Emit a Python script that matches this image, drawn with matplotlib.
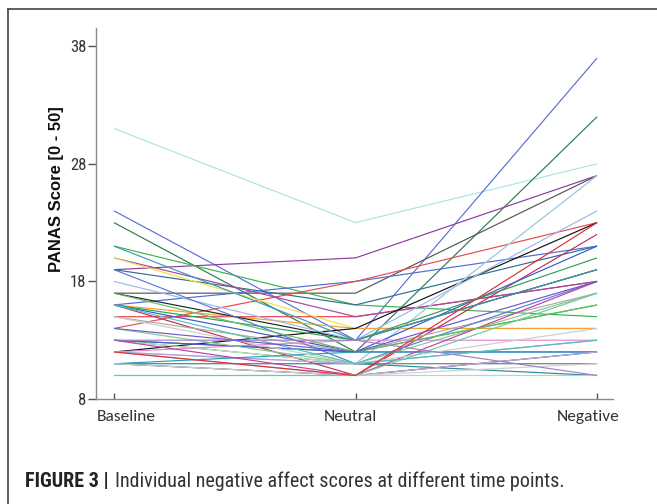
import matplotlib
matplotlib.use("Agg")
import matplotlib.pyplot as plt
from matplotlib.lines import Line2D
from matplotlib import font_manager as fm

# ---------------- data ----------------
categories = ["Baseline", "Neutral", "Negative"]
y_ticks = [8, 18, 28, 38]

baseline = [31, 24, 23, 19, 17, 21, 19, 16, 14, 15, 20, 20, 16, 17, 12, 16, 11, 10, 11, 13,
            18, 13, 12, 16, 15, 16, 21, 19, 13, 12, 13, 14, 12, 11, 13, 15, 17, 12, 11, 16,
            10, 13, 14, 12]
neutral = [23, 13, 12, 20, 17, 16, 16, 18, 18, 15, 15, 14, 14, 13, 14, 10, 11, 10, 10, 11,
           13, 11, 11, 12, 12, 13, 13, 11, 12, 13, 12, 11, 11, 12, 10, 11, 12, 10, 10, 11,
           10, 13, 12, 10]
negative = [28, 37, 32, 27, 27, 15, 21, 21, 23, 18, 18, 14, 14, 19, 23, 22, 10, 10, 12, 11,
            24, 27, 27, 21, 17, 20, 19, 18, 16, 13, 12, 17, 13, 12, 18, 14, 16, 12, 11, 13,
            17, 10, 18, 23]
colors = ["#a9e4e4", "#5a6fd6", "#2f7a4f", "#8e3a9e", "#555555", "#3cb44b", "#2f6f8f",
          "#4f6bd8", "#e84a4a", "#e8424e", "#a04aa0", "#eee050", "#f5a030", "#222222",
          "#111111", "#c0305a", "#2a8a9a", "#9fe0c8", "#1f4f6f", "#777777", "#9db8e8",
          "#b8e8b8", "#a8c8ee", "#3a5ac8", "#aaaaaa", "#2ca05a", "#3a9ab0", "#5a7ad8",
          "#3cb44b", "#e08ad0", "#4455dd", "#88c888", "#b0a0d8", "#28a0b8", "#c040a0",
          "#cccccc", "#66bb66", "#c8a8d8", "#d0d0d0", "#50c0c0", "#70c8a0", "#a080c0",
          "#6a5acd", "#e03030"]

ylabel = "PANAS Score [0 - 50]"
caption_bold = "FIGURE 3 |"
caption_text = "Individual negative affect scores at different time points."

# ---------------- fonts ----------------
def pick(names):
    avail = {f.name for f in fm.fontManager.ttflist}
    for n in names:
        if n in avail:
            return n
    return "DejaVu Sans"

narrow = pick(["Liberation Sans Narrow", "Roboto Condensed", "Liberation Sans"])
sans = pick(["Liberation Sans", "DejaVu Sans"])
calib = pick(["Carlito", "Lato", "Open Sans"])

W, H = 657, 504
fig = plt.figure(figsize=(W / 100, H / 100), dpi=100)

def fx(px):
    return px / W

def fy(py):
    return 1 - py / H

ax = fig.add_axes([fx(96), fy(399), fx(613) - fx(96), fy(28) - fy(399)])
x = list(range(len(categories)))
for b, n, g, c in zip(baseline, neutral, negative, colors):
    ax.plot(x, [b, n, g], color=c, lw=0.85, solid_capstyle="butt")

ax.set_xlim(-0.0745, 2.066)
ax.set_ylim(8, 39.55)
for s in ["top", "right"]:
    ax.spines[s].set_visible(False)
for s in ["left", "bottom"]:
    ax.spines[s].set_color("#8a8a8a")
    ax.spines[s].set_linewidth(1.0)
ax.set_yticks(y_ticks)
ax.set_yticklabels([str(v) for v in y_ticks], family=narrow, fontsize=12, color="#333333")
ax.tick_params(axis="y", direction="out", length=6, width=1, color="#555555", pad=1)
ax.set_xticks(x)
ax.set_xticklabels([])
ax.tick_params(axis="x", direction="in", length=4, width=1, color="#555555")

# category labels
label_px = [126, 350, 588]
for lab, px in zip(categories, label_px):
    fig.text(fx(px), fy(417), lab, ha="center", va="center", family=calib,
             fontsize=12.5, color="#333333", fontweight="normal")

fig.text(fx(56.5), fy(189), ylabel, rotation=90, ha="center", va="center",
         family=sans, fontweight="bold", fontsize=12, color="#111111")

# frame
fig.add_artist(Line2D([fx(8), fx(8)], [fy(9), -0.1], color="#444444", lw=1.2,
                      transform=fig.transFigure))
fig.add_artist(Line2D([fx(8), 1.1], [fy(9), fy(9)], color="#444444", lw=1.2,
                      transform=fig.transFigure))

# caption
t1 = fig.text(fx(25), fy(481.5), caption_bold, ha="left", va="center", family=narrow,
              fontweight="bold", fontsize=14.5, color="#222222")
fig.canvas.draw()
r = fig.canvas.get_renderer()
bb = t1.get_window_extent(r)
fig.text((bb.x1 + 6) / W, fy(481.5), caption_text, ha="left", va="center", family=narrow,
         fontsize=14.5, color="#333333")

fig.savefig("out.png", dpi=100)
